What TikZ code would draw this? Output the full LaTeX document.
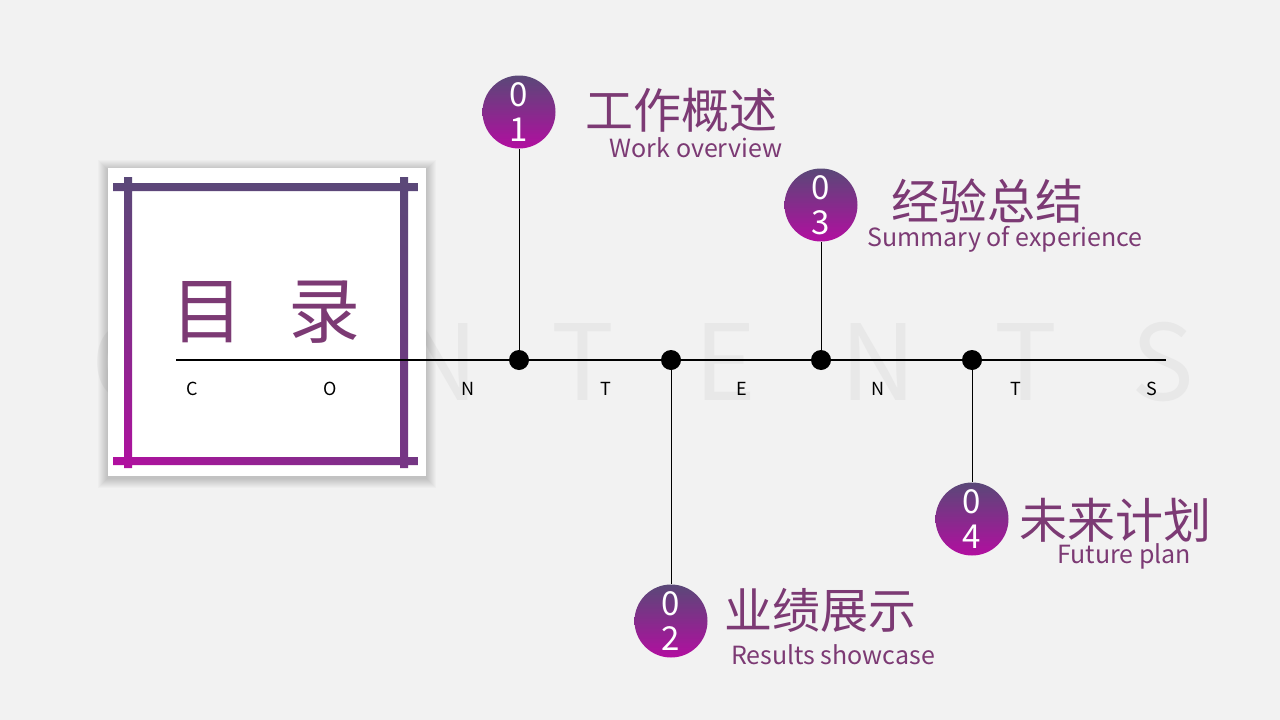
\documentclass[tikz,border=0pt]{standalone}
\usepackage{fontspec}
\setmainfont{Noto Sans CJK SC}
\usetikzlibrary{shadings}
\definecolor{bggray}{RGB}{242,242,242}
\definecolor{ghost}{RGB}{232,232,232}
\definecolor{slate}{RGB}{90,72,120}
\definecolor{magenta}{RGB}{178,14,160}
\definecolor{txtpurple}{RGB}{124,58,116}
\tikzset{
  numcirc/.style={circle,minimum size=73pt,inner sep=0pt,top color=slate,bottom color=magenta,
    text=white,align=center,font=\fontsize{33}{35}\selectfont},
  tldot/.style={circle,fill=black,minimum size=20pt,inner sep=0pt},
  cntitle/.style={text=txtpurple,inner sep=0pt,font=\fontsize{48}{52}\selectfont},
  entitle/.style={text=txtpurple,inner sep=0pt,font=\fontsize{25}{28}\selectfont},
  bigletter/.style={text=ghost,inner sep=0pt,font=\fontsize{105}{110}\selectfont},
  smallletter/.style={inner sep=0pt,font=\fontsize{18}{20}\selectfont}
}
\begin{document}
\begin{tikzpicture}[x=1pt,y=-1pt]
  \useasboundingbox[fill=bggray] (0,0) rectangle (1280,720);
%%background letters
  \node[bigletter] (bC) at (125,362) {C};
  \node[bigletter] (bO) at (282,362) {O};
  \node[bigletter] (bN) at (440,362) {N};
  \node[bigletter] (bT) at (583,362) {T};
  \node[bigletter] (bE) at (725,362) {E};
  \node[bigletter] (bN2) at (878,362) {N};
  \node[bigletter] (bT2) at (1026,362) {T};
  \node[bigletter] (bS) at (1163,362) {S};
%%box
  \foreach \i in {1,...,10}
    \fill[black,opacity=0.02] (108-\i,168-\i+2) rectangle (426+\i,476+\i+2);
  \fill[white] (108,168) rectangle (426,476);
  \shade[lower left=magenta,upper left=slate,upper right=slate,lower right=slate!70!magenta]
    (113,183) rectangle (418,191)
    (113,457) rectangle (418,465)
    (124,177) rectangle (132,468)
    (400,177) rectangle (408,468);
  \node[text=txtpurple,inner sep=0pt,font=\fontsize{72}{80}\selectfont] (mulu) at (266,312) {目\hspace{45pt}录};
%%timeline
  \coordinate (lineL) at (176,360);
  \coordinate (lineR) at (1166,360);
  \draw[line width=1.6pt] (lineL) -- (lineR);
  \node[smallletter] (sC) at (192,389) {C};
  \node[smallletter] (sO) at (330,389) {O};
  \node[smallletter] (sN) at (468,389) {N};
  \node[smallletter] (sT) at (606,389) {T};
  \node[smallletter] (sE) at (742,389) {E};
  \node[smallletter] (sN2) at (878,389) {N};
  \node[smallletter] (sT2) at (1016,389) {T};
  \node[smallletter] (sS) at (1152,389) {S};
  \node[tldot] (d1) at (519,360) {};
  \node[tldot] (d2) at (671,360) {};
  \node[tldot] (d3) at (821,360) {};
  \node[tldot] (d4) at (972,360) {};
%%items
  \node[numcirc] (c1) at (519,112) {0\\1};
  \node[numcirc] (c2) at (671,621) {0\\2};
  \node[numcirc] (c3) at (821,205) {0\\3};
  \node[numcirc] (c4) at (972,519) {0\\4};
  \draw[line width=1pt] (d1) -- (c1);
  \draw[line width=1pt] (d2) -- (c2);
  \draw[line width=1pt] (d3) -- (c3);
  \draw[line width=1pt] (d4) -- (c4);
  \node[cntitle] (t1) at (681,110) {工作概述};
  \node[entitle] (e1) at (696,148) {Work overview};
  \node[cntitle] (t3) at (987,201) {经验总结};
  \node[entitle] (e3) at (1005,239) {Summary of experience};
  \node[cntitle] (t2) at (820,610) {业绩展示};
  \node[entitle] (e2) at (833,655) {Results showcase};
  \node[cntitle] (t4) at (1115,520) {未来计划};
  \node[entitle] (e4) at (1124,556) {Future plan};
\end{tikzpicture}
\end{document}
